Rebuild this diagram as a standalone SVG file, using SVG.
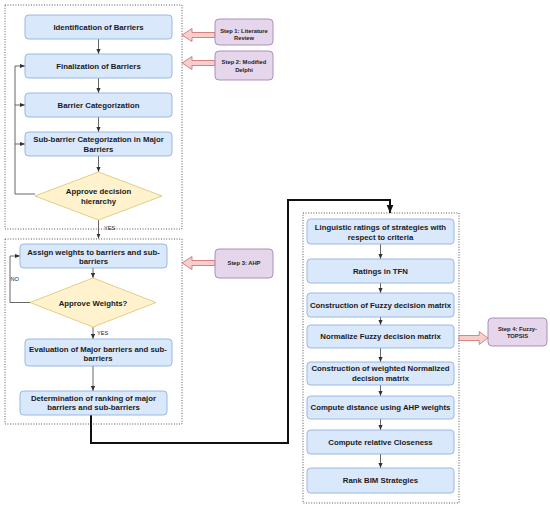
<svg xmlns="http://www.w3.org/2000/svg" width="550" height="508" viewBox="0 0 550 508">
<style>
.grp{fill:none;stroke:#444;stroke-width:0.9;stroke-dasharray:1 1.6}
.n{fill:#dae8fc;stroke:#8fb1de;stroke-width:0.9}
.d{fill:#fff2cc;stroke:#e0c878;stroke-width:0.9}
.s{fill:#e6d6ec;stroke:#a583b5;stroke-width:0.9}
.pa{fill:#f8cecc;stroke:#c96a66;stroke-width:0.8}
.t{font-family:"Liberation Sans",Arial,sans-serif;font-weight:bold;font-size:7.8px;fill:#1a1a1a;text-anchor:middle}
.st{font-family:"Liberation Sans",Arial,sans-serif;font-weight:bold;font-size:5.8px;fill:#222;text-anchor:middle}
.lb{font-family:"Liberation Sans",Arial,sans-serif;font-size:5.6px;fill:#222}
.c{fill:none;stroke:#555;stroke-width:0.9}
.ck{fill:none;stroke:#111;stroke-width:2}
</style>
<defs>
<marker id="ah" viewBox="0 0 6 6" refX="6" refY="3" markerWidth="5" markerHeight="5" markerUnits="userSpaceOnUse" orient="auto"><path d="M0,0.5 L6,3 L0,5.5 Z" fill="#333"/></marker>
<marker id="ahk" viewBox="0 0 6 6" refX="6" refY="3" markerWidth="8" markerHeight="8" markerUnits="userSpaceOnUse" orient="auto"><path d="M0,0.5 L6,3 L0,5.5 Z" fill="#111"/></marker>
<path id="pl" d="M0,0 L10,-6.5 L10,-2.5 L33,-2.5 L33,2.5 L10,2.5 L10,6.5 Z"/>
</defs>

<g id="groups">
<rect class="grp" x="5" y="5" width="177" height="224"/>
<rect class="grp" x="5" y="239" width="177" height="185"/>
<rect class="grp" x="303" y="213" width="156" height="290"/>
</g>

<g id="connectors">
<line class="c" x1="98.5" y1="39" x2="98.5" y2="54" marker-end="url(#ah)"/>
<line class="c" x1="98.5" y1="78" x2="98.5" y2="93" marker-end="url(#ah)"/>
<line class="c" x1="98.5" y1="117" x2="98.5" y2="132" marker-end="url(#ah)"/>
<line class="c" x1="98.5" y1="156" x2="98.5" y2="172" marker-end="url(#ah)"/>
<polyline class="c" points="35,194 15,194 15,66 25,66" marker-end="url(#ah)"/>
<line class="c" x1="15" y1="105" x2="25" y2="105" marker-end="url(#ah)"/>
<line class="c" x1="15" y1="144" x2="25" y2="144" marker-end="url(#ah)"/>
<line class="c" x1="98.5" y1="220" x2="98.5" y2="238.5" marker-end="url(#ah)"/>
<text class="lb" x="104" y="230">YES</text>
<line class="c" x1="93" y1="268" x2="93" y2="278" marker-end="url(#ah)"/>
<polyline class="c" points="30,302.5 10,302.5 10,256 20,256" marker-end="url(#ah)"/>
<text class="lb" x="10.5" y="281">NO</text>
<line class="c" x1="93" y1="327" x2="93" y2="339" marker-end="url(#ah)"/>
<text class="lb" x="97" y="335">YES</text>
<line class="c" x1="93" y1="366" x2="93" y2="391" marker-end="url(#ah)"/>
<polyline class="ck" points="91,415 91,443 288,443 288,200 390,200 390,213" marker-end="url(#ahk)"/>
<line class="c" x1="380.5" y1="244" x2="380.5" y2="259" marker-end="url(#ah)"/>
<line class="c" x1="380.5" y1="283" x2="380.5" y2="293" marker-end="url(#ah)"/>
<line class="c" x1="380.5" y1="317" x2="380.5" y2="325" marker-end="url(#ah)"/>
<line class="c" x1="380.5" y1="348" x2="380.5" y2="362" marker-end="url(#ah)"/>
<line class="c" x1="380.5" y1="385" x2="380.5" y2="396" marker-end="url(#ah)"/>
<line class="c" x1="380.5" y1="419" x2="380.5" y2="430" marker-end="url(#ah)"/>
<line class="c" x1="380.5" y1="454" x2="380.5" y2="468" marker-end="url(#ah)"/>
<use href="#pl" class="pa" transform="translate(182,35)"/>
<use href="#pl" class="pa" transform="translate(182,63)"/>
<use href="#pl" class="pa" transform="translate(182,263)"/>
<use href="#pl" class="pa" transform="translate(488,338) scale(-0.88,1)"/>
</g>

<g id="n1"><rect class="n" x="25" y="15" width="147" height="24" rx="3.5"/><text class="t" x="98.5" y="29.8">Identification of Barriers</text></g>
<g id="n2"><rect class="n" x="25" y="54" width="147" height="24" rx="3.5"/><text class="t" x="98.5" y="68.8">Finalization of Barriers</text></g>
<g id="n3"><rect class="n" x="25" y="93" width="147" height="24" rx="3.5"/><text class="t" x="98.5" y="107.8">Barrier Categorization</text></g>
<g id="n4"><rect class="n" x="25" y="132" width="147" height="24" rx="3.5"/><text class="t" x="98.5" y="141.8">Sub-barrier Categorization in Major</text><text class="t" x="98.5" y="151.8">Barriers</text></g>
<g id="d1"><polygon class="d" points="98.5,172 162,196 98.5,220 35,196"/><text class="t" x="98.5" y="193.8">Approve decision</text><text class="t" x="98.5" y="203.8">hierarchy</text></g>

<g id="s1"><rect class="s" x="215" y="19" width="58" height="26" rx="4"/><text class="st" x="244" y="32.5">Step 1: Literature</text><text class="st" x="244" y="40">Review</text></g>
<g id="s2"><rect class="s" x="215" y="51" width="58" height="29" rx="4"/><text class="st" x="244" y="64">Step 2: Modified</text><text class="st" x="244" y="71.5">Delphi</text></g>

<g id="n5"><rect class="n" x="20" y="244" width="147" height="24" rx="3.5"/><text class="t" x="93.5" y="254.5">Assign weights to barriers and sub-</text><text class="t" x="93.5" y="264">barriers</text></g>
<g id="d2"><polygon class="d" points="93,278 156,302.5 93,327 30,302.5"/><text class="t" x="93" y="305.5">Approve Weights?</text></g>
<g id="n6"><rect class="n" x="25" y="339" width="147" height="27" rx="3.5"/><text class="t" x="98" y="351.5">Evaluation of Major barriers and sub-</text><text class="t" x="98" y="361">barriers</text></g>
<g id="n7"><rect class="n" x="20" y="391" width="147" height="24" rx="3.5"/><text class="t" x="93.5" y="400.8">Determination of ranking of major</text><text class="t" x="93.5" y="410">barriers and sub-barriers</text></g>
<g id="s3"><rect class="s" x="215" y="249" width="58" height="29" rx="4"/><text class="st" x="244" y="265">Step 3: AHP</text></g>

<g id="r1"><rect class="n" x="307" y="219" width="147" height="25" rx="3.5"/><text class="t" x="380.5" y="229.8">Linguistic ratings of strategies with</text><text class="t" x="380.5" y="239.5">respect to criteria</text></g>
<g id="r2"><rect class="n" x="307" y="259" width="147" height="24" rx="3.5"/><text class="t" x="380.5" y="273.8">Ratings in TFN</text></g>
<g id="r3"><rect class="n" x="307" y="293" width="147" height="24" rx="3.5"/><text class="t" x="380.5" y="307.8">Construction of Fuzzy decision matrix</text></g>
<g id="r4"><rect class="n" x="307" y="325" width="147" height="23" rx="3.5"/><text class="t" x="380.5" y="339.3">Normalize Fuzzy decision matrix</text></g>
<g id="r5"><rect class="n" x="307" y="362" width="147" height="23" rx="3.5"/><text class="t" x="380.5" y="371">Construction of weighted Normalized</text><text class="t" x="380.5" y="380.5">decision matrix</text></g>
<g id="r6"><rect class="n" x="307" y="396" width="147" height="23" rx="3.5"/><text class="t" x="380.5" y="410.3">Compute distance using AHP weights</text></g>
<g id="r7"><rect class="n" x="307" y="430" width="147" height="24" rx="3.5"/><text class="t" x="380.5" y="444.8">Compute relative Closeness</text></g>
<g id="r8"><rect class="n" x="307" y="468" width="147" height="25" rx="3.5"/><text class="t" x="380.5" y="483.3">Rank BIM Strategies</text></g>
<g id="s4"><rect class="s" x="488" y="318" width="59" height="28" rx="4"/><text class="st" x="517.5" y="331">Step 4: Fuzzy-</text><text class="st" x="517.5" y="338">TOPSIS</text></g>
</svg>
